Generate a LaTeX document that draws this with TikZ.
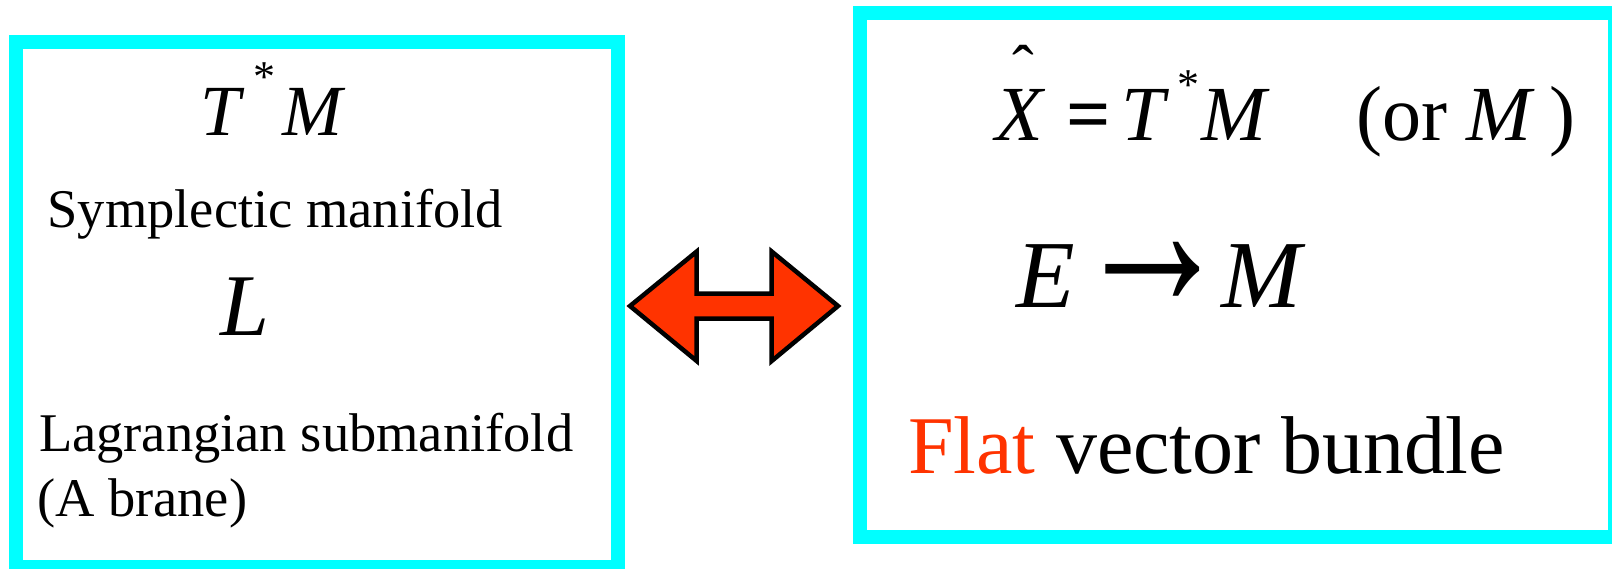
\documentclass[tikz,border=0pt]{standalone}
\usepackage{fontspec}
\setmainfont{Liberation Serif}
\usetikzlibrary{positioning}
\definecolor{panelcyan}{HTML}{00FFFF}
\definecolor{flatred}{HTML}{FF3300}
\newcommand{\fs}[1]{\fontsize{#1}{#1}\selectfont}

\begin{document}
\begin{tikzpicture}[x=1pt,y=-1pt,
    panel/.style={draw=panelcyan, line width=14pt},
    txt/.style={anchor=base west, inner sep=0pt, outer sep=0pt}]
  \useasboundingbox (0,0) rectangle (1612,568);
  % the two boxes
  \draw[panel] (16.3,42) rectangle (618.3,566.7);
  \draw[panel] (860,12.5) rectangle (1614.7,537);
  % left box
  \node[txt] (cot) at (200,135) {\fs{72}\textit{T}\kern9pt\raisebox{44pt}{\fs{44}*}\kern7pt\textit{M}};
  \node[txt] (symp) at (47.5,227) {\fs{54.5}Symplectic manifold};
  \node[txt] (lag) at (220,335) {\fs{88}\textit{L}};
  \node[txt] (lagtxt) at (39,451) {\fs{54.5}Lagrangian submanifold};
  \node[txt] (abrane) at (37,516) {\fs{54.5}(A brane)};
  % right box
  \node[txt] (mirror) at (995,140) {\fs{78}\rlap{\kern17pt\raisebox{50pt}{\fs{65}ˆ}}\textit{X}\kern21pt\textbf{=}\kern11pt\textit{T}\kern8pt\raisebox{41pt}{\fs{44}*}\kern2pt\textit{M}\kern86pt(or \textit{M}\kern14pt)};
  \node[txt] (bundle) at (1016,307) {\fs{96}\textit{E}\kern-1pt\scalebox{1.65}[2.4]{→}\kern-11pt\textit{M}};
  \node[txt] (flat) at (908,473) {\fs{82}\textcolor{flatred}{Flat} vector bundle};
  % double arrow between the boxes
  \draw[line width=4.5pt, fill=flatred, line join=miter]
    (630,306) -- (696.7,251.5) -- (696.7,293.5) -- (771.7,293.5) -- (771.7,251.5)
    -- (838,306) -- (771.7,361) -- (771.7,318.7) -- (696.7,318.7) -- (696.7,361) -- cycle;
\end{tikzpicture}
\end{document}
